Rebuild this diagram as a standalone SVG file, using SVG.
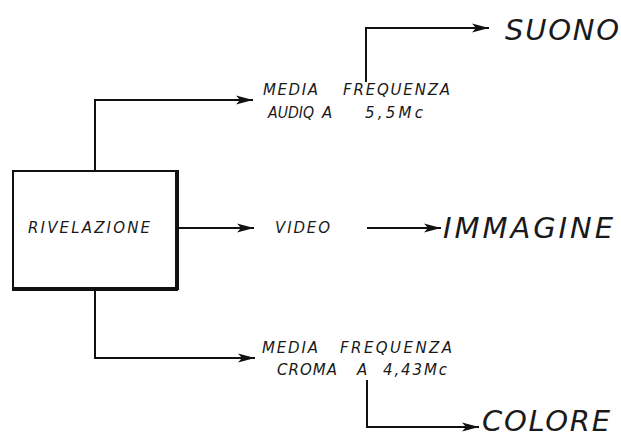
<svg xmlns="http://www.w3.org/2000/svg" width="621" height="438" viewBox="0 0 621 438">
<defs>
<marker id="ah" markerWidth="18" markerHeight="10" refX="17" refY="5" orient="auto" markerUnits="userSpaceOnUse">
<path d="M0,0.5 L17,5 L0,9.5 L4,5 Z" fill="#111"/>
</marker>
<style>
.t{font-family:"DejaVu Sans","Liberation Sans",sans-serif;font-style:italic;fill:#1a1a1a}
.s{font-size:15px}
.b{font-size:29px}
.c{fill:none;stroke:#111;stroke-width:2}
</style>
</defs>
<rect width="621" height="438" fill="#fff"/>
<g id="connectors">
<path class="c" d="M95,170 V100 H253" marker-end="url(#ah)"/>
<path class="c" d="M178,228 H254" marker-end="url(#ah)"/>
<path class="c" d="M95,289 V358 H255" marker-end="url(#ah)"/>
<path class="c" d="M366,82 V28 H489" marker-end="url(#ah)"/>
<path class="c" d="M367,228 H441" marker-end="url(#ah)"/>
<path class="c" d="M367,380 V427 H479" marker-end="url(#ah)"/>
</g>
<g id="rivelazione">
<rect x="13" y="171" width="164" height="118" fill="#fff" stroke="#111" stroke-width="2"/>
<path d="M177,170 V290 M12,289 H178" stroke="#111" stroke-width="4" fill="none"/>
<text class="t s" x="28" y="233" textLength="122" lengthAdjust="spacing">RIVELAZIONE</text>
</g>
<g id="audio">
<text class="t s" x="263" y="95" textLength="55" lengthAdjust="spacing">MEDIA</text>
<text class="t s" x="343" y="95" textLength="107" lengthAdjust="spacing">FREQUENZA</text>
<text class="t s" x="268" y="118" textLength="46" lengthAdjust="spacingAndGlyphs">AUDIQ</text>
<text class="t s" x="322" y="118" textLength="10" lengthAdjust="spacing">A</text>
<text class="t s" x="365" y="118" textLength="58" lengthAdjust="spacing">5,5Mc</text>
</g>
<g id="video">
<text class="t s" x="275" y="233" textLength="55" lengthAdjust="spacing">VIDEO</text>
</g>
<g id="croma">
<text class="t s" x="262" y="353" textLength="56" lengthAdjust="spacing">MEDIA</text>
<text class="t s" x="340" y="353" textLength="112" lengthAdjust="spacing">FREQUENZA</text>
<text class="t s" x="277" y="375" textLength="60" lengthAdjust="spacing">CROMA</text>
<text class="t s" x="357" y="375" textLength="11" lengthAdjust="spacing">A</text>
<text class="t s" x="383" y="375" textLength="64" lengthAdjust="spacing">4,43Mc</text>
</g>
<g id="suono">
<text class="t b" x="505" y="40" textLength="114" lengthAdjust="spacing">SUONO</text>
</g>
<g id="immagine">
<text class="t b" x="443" y="238" textLength="170" lengthAdjust="spacing">IMMAGINE</text>
</g>
<g id="colore">
<text class="t b" x="482" y="431" font-size="28" textLength="128" lengthAdjust="spacing">COLORE</text>
</g>
</svg>
